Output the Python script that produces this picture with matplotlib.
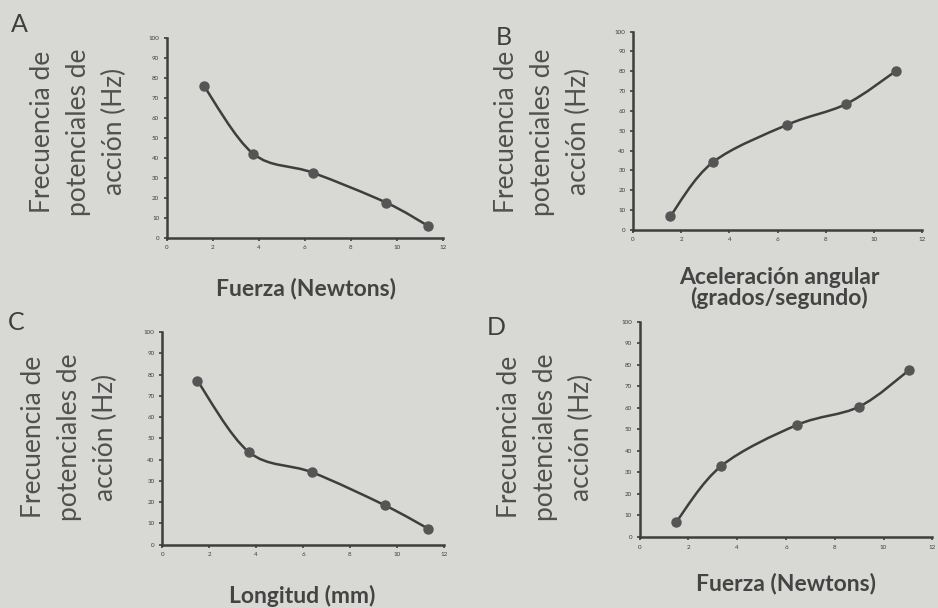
import numpy as np
import matplotlib
matplotlib.use("Agg")
import matplotlib.pyplot as plt
from matplotlib.path import Path
from matplotlib.patches import PathPatch

plt.rcParams['font.family'] = ['Lato', 'DejaVu Sans']

# valores
x_a = [1.6, 3.75, 6.35, 9.55, 11.35]
y_a = [76, 42, 32.5, 17.5, 6]

x_b = [1.55, 3.3, 6.4, 8.85, 10.9]
y_b = [7, 34, 53, 63.5, 80]

x_c = [1.5, 3.7, 6.4, 9.5, 11.35]
y_c = [77, 43.5, 34, 18.5, 7.5]

x_d = [1.5, 3.35, 6.45, 9.0, 11.05]
y_d = [7, 33, 52, 60.5, 77.5]

x_ticks = [0, 2, 4, 6, 8, 10, 12]
y_ticks = [0, 10, 20, 30, 40, 50, 60, 70, 80, 90, 100]

ylabel = "Frecuencia de\npotenciales de\nacción (Hz)"

bg = "#d8d9d4"
ink = "#3e3e3e"

panels = [
    # letra, x, y, xlabel, rect ejes, pos letra, pos xlabel, pos ylabel
    ("A", x_a, y_a, "Fuerza (Newtons)", [0.178, 0.609, 0.294, 0.329], (0.012, 0.978), (0.326, 0.525), (0.084, 0.783)),
    ("B", x_b, y_b, "Aceleración angular\n(grados/segundo)", [0.675, 0.622, 0.308, 0.326], (0.528, 0.958), (0.831, 0.526), (0.578, 0.783)),
    ("C", x_c, y_c, "Longitud (mm)", [0.173, 0.104, 0.300, 0.350], (0.008, 0.489), (0.322, 0.019), (0.074, 0.281)),
    ("D", x_d, y_d, "Fuerza (Newtons)", [0.682, 0.117, 0.312, 0.354], (0.519, 0.481), (0.838, 0.041), (0.582, 0.281)),
]


def smooth_path(xs, ys):
    # curva suave tipo Catmull-Rom convertida a Bézier cúbica
    pts = np.column_stack([xs, ys])
    verts = [pts[0]]
    codes = [Path.MOVETO]
    n = len(pts)
    for i in range(n - 1):
        p0 = pts[i - 1] if i > 0 else pts[i]
        p1 = pts[i]
        p2 = pts[i + 1]
        p3 = pts[i + 2] if i + 2 < n else pts[i + 1]
        c1 = p1 + (p2 - p0) / 6
        c2 = p2 - (p3 - p1) / 6
        verts += [c1, c2, p2]
        codes += [Path.CURVE4] * 3
    return Path(verts, codes)


fig = plt.figure(figsize=(9.38, 6.08), dpi=100)
fig.patch.set_facecolor(bg)

for letter, xs, ys, xlab, rect, lpos, xpos, ypos in panels:
    ax = fig.add_axes(rect)
    ax.set_facecolor(bg)
    ax.set_xlim(0, 12)
    ax.set_ylim(0, 100)
    for s in ["top", "right"]:
        ax.spines[s].set_visible(False)
    for s in ["left", "bottom"]:
        ax.spines[s].set_color(ink)
        ax.spines[s].set_linewidth(1.8)
    ax.set_xticks(x_ticks)
    ax.set_yticks(y_ticks)
    ax.tick_params(labelsize=4.5, colors=ink, length=2.5, width=1.2, pad=3)
    ax.add_patch(PathPatch(smooth_path(xs, ys), facecolor="none", edgecolor=ink, lw=1.8))
    ax.plot(xs, ys, "o", color="#555555", ms=6.5, clip_on=False)

    fig.text(lpos[0], lpos[1], letter, fontsize=18, color=ink, ha="left", va="top")
    fig.text(xpos[0], xpos[1], xlab, fontsize=16.5, color="#444444", ha="center", va="center",
             fontweight="bold", linespacing=0.95)
    fig.text(ypos[0], ypos[1], ylabel, fontsize=19, color="#505050", ha="center", va="center",
             rotation=90, linespacing=1.55)

fig.savefig("out.png", dpi=100, facecolor=bg)
